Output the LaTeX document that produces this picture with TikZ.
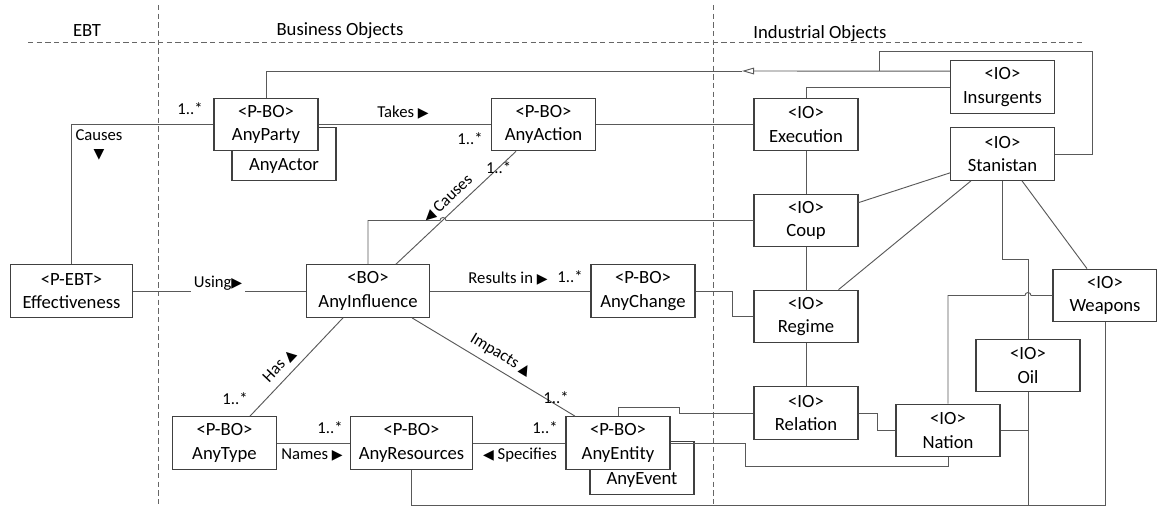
\documentclass[tikz,border=0pt]{standalone}
\usepackage{fontspec}
\setmainfont{Carlito}
\newfontfamily\glyphfont{DejaVu Sans}
\usetikzlibrary{arrows.meta,calc}
\newcommand{\rtri}{{\glyphfont\fontsize{10.5}{10.5}\selectfont ▶}}
\newcommand{\ltri}{{\glyphfont\fontsize{10.5}{10.5}\selectfont ◀}}
\newcommand{\utri}{{\glyphfont\fontsize{10.5}{10.5}\selectfont ▲}}
\newcommand{\dtri}{{\glyphfont\fontsize{10.5}{10.5}\selectfont ▼}}
\begin{document}
\begin{tikzpicture}[x=0.75pt,y=-0.75pt,
  obj/.style={draw=black!75,line width=0.8pt,fill=white,align=center,minimum width=78pt,minimum height=39.5pt,inner sep=0pt,font=\fontsize{14}{17.5}\selectfont},
  wideobj/.style={obj,minimum width=92pt},
  conn/.style={draw=black!65,line width=0.7pt},
  lbl/.style={font=\fontsize{12.5}{14}\selectfont,inner sep=1pt},
  head/.style={font=\fontsize{14}{16}\selectfont},
  zone/.style={draw=black!60,line width=0.7pt,dash pattern=on 4pt off 2.5pt}]

\useasboundingbox (0,0) rectangle (1157,506);

\draw[zone] (28,42) -- (1083,42);
\draw[zone] (158,5) -- (158,506);
\draw[zone] (713,5) -- (713,506);
\node[head] (ebt) at (87,31) {EBT};
\node[head] (bo) at (340,31) {Business Objects};
\node[head] (io) at (820,34) {Industrial Objects};

\node[obj] (actor) at (284,154) {\vphantom{<P-BO>}\\AnyActor};
\node[obj] (party) at (266,124.5) {<P-BO>\\AnyParty};
\node[obj] (action) at (543.5,124.5) {<P-BO>\\AnyAction};
\node[obj] (exec) at (806,124.5) {<IO>\\Execution};
\node[obj] (insurg) at (1002.5,87) {<IO>\\Insurgents};
\node[obj] (stan) at (1002.5,154) {<IO>\\Stanistan};
\node[obj] (coup) at (806,220.5) {<IO>\\Coup};
\node[wideobj] (eff) at (71.5,291) {<P-EBT>\\Effectiveness};
\node[wideobj] (infl) at (368,291) {<BO>\\AnyInfluence};
\node[obj] (change) at (643,291) {<P-BO>\\AnyChange};
\node[obj] (regime) at (806,316.5) {<IO>\\Regime};
\node[obj] (weap) at (1105,295.5) {<IO>\\Weapons};
\node[obj] (oil) at (1028,365.5) {<IO>\\Oil};
\node[obj] (rel) at (806,413) {<IO>\\Relation};
\node[obj] (nation) at (948,430.5) {<IO>\\Nation};
\node[obj] (type) at (224.5,443) {<P-BO>\\AnyType};
\node[wideobj] (res) at (411.5,443) {<P-BO>\\AnyResources};
\node[obj] (event) at (642,468) {\vphantom{<P-BO>}\\AnyEvent};
\node[obj] (ent) at (618,443) {<P-BO>\\AnyEntity};

\coordinate (gen) at (742,71);
\coordinate (hop) at (440,220.5);
\coordinate (bot) at (0,505);

\draw[conn] (eff.north) |- (party.west);
\draw[conn] (party) -- (action);
\draw[conn] (action) -- (exec);
\draw[conn] (gen) -| (party.north);
\draw[conn,-{Triangle[open,length=9pt,width=5pt]}] ($(insurg.north west)+(0,11)$) -- (gen);
\draw[conn] (stan.east) -- ++(37,0) |- ($(gen)+(137,-20)$) -- ++(0,20);
\draw[conn] (insurg.west) -| (exec.north);
\draw[conn] (exec) -- (coup);
\draw[conn] ($(coup.north east)+(0,9)$) -- ($(stan.south west)+(0,-8)$);
\draw[conn] ($(regime.north east)+(-20,0)$) -- ($(stan.south west)+(21,0)$);
\draw[conn] (stan.south) -- ++(0,79) -| (oil.north);
\draw[conn] ($(stan.south)+(19.5,0)$) -- ($(weap.north)+(-18,0)$);
\draw[conn] (coup) -- (regime);
\draw[conn] (regime) -- (rel);
\draw[conn] (change.east) -- ++(37,0) |- (regime.west);
\draw[conn] (infl.north) |- (hop) arc[start angle=180,end angle=0,radius=2.25pt] -- (coup.west);
\draw[conn] ($(infl.north)+(28,0)$) -- node[lbl,sloped,above=3pt,pos=0.5] {\ltri\ Causes} node[lbl,pos=0.855] {1..*} ($(action.south)+(-27.5,0)$);
\draw[conn] (eff) -- node[lbl,fill=white,inner xsep=2pt,inner ysep=5pt,pos=0.49,yshift=6pt] {Using\rtri} (infl);
\draw[conn] (infl) -- (change);
\draw[conn] ($(type.north)+(25.5,0)$) -- node[lbl,sloped,above=4pt,pos=0.42] {Has \utri} ($(infl.south)+(-25,0)$);
\draw[conn] ($(infl.south)+(44,0)$) -- node[lbl,sloped,above=4pt,pos=0.5] {Impacts \utri} ($(ent.north)+(-43,0)$);
\draw[conn] (type) -- (res);
\draw[conn] (res) -- (ent);
\draw[conn] (res.south) |- (bot -| weap.south) -- (weap.south);
\draw[conn] (oil.south) -- (oil.south |- bot);
\draw[conn] (nation.east) -- (nation.east -| oil.south);
\draw[conn] (ent.north) -- ++(0,-9) -- ++(61,0) |- (rel.west);
\draw[conn] (ent.east) -- ++(75,0) |- ($(nation.south)+(0,9.5)$) -- (nation.south);
\draw[conn] (rel.east) -- ++(19,0) |- (nation.west);
\draw[conn] (nation.north) |- ($(weap.west -| oil.north)+(-3,0)$) arc[start angle=180,end angle=0,radius=2.25pt] -- (weap.west);

\node[lbl,align=center,font=\fontsize{12.5}{14}\selectfont] (causesEbt) at (99,145) {Causes\\\dtri};
\node[lbl] (mParty) at (190,109) {1..*};
\node[lbl] (takes) at (403,113) {Takes \rtri};
\node[lbl] (mAction) at (470,139) {1..*};
\node[lbl] (results) at (508,279) {Results in \rtri};
\node[lbl] (mChange) at (570,277) {1..*};
\node[lbl] (mType) at (235,399) {1..*};
\node[lbl] (mEnt) at (556,398) {1..*};
\node[lbl] (mRes) at (330,428) {1..*};
\node[lbl] (names) at (312,455) {Names \rtri};
\node[lbl] (mSpec) at (545,428) {1..*};
\node[lbl] (specifies) at (520,455) {\ltri\ Specifies};
\end{tikzpicture}
\end{document}
